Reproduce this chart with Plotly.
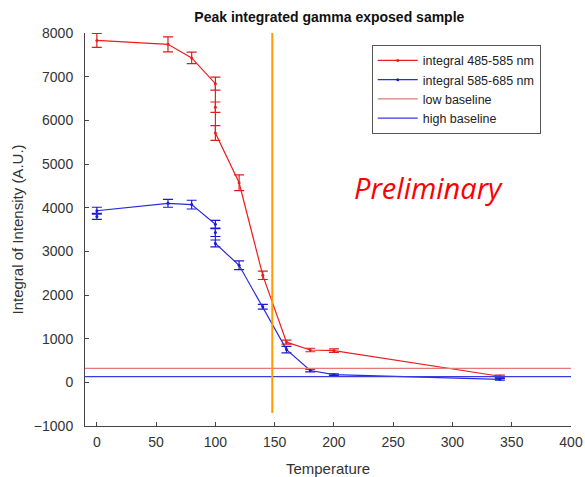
import plotly.graph_objects as go

# Data
temp_red = [0, 60, 80, 100, 100, 100, 120, 140, 160, 180, 200, 340]
val_red = [7830, 7740, 7430, 6840, 6300, 5710, 4570, 2450, 920, 740, 725, 140]
err_red = [160, 170, 130, 150, 120, 170, 180, 95, 45, 40, 40, 25]

temp_blue = [0, 0, 60, 80, 100, 100, 100, 120, 140, 160, 180, 200, 340]
val_blue = [3800, 3930, 4100, 4070, 3620, 3430, 3180, 2680, 1730, 750, 270, 175, 70]
err_blue = [70, 80, 90, 100, 90, 90, 80, 100, 55, 75, 30, 20, 20]

low_baseline = 320
high_baseline = 130
cutoff_temp = 148
cutoff_span = [-700, 8000]
x_range = [-10, 400]
y_range = [-1000, 8000]

font_family = "Liberation Sans, Arial, sans-serif"

fig = go.Figure()

fig.add_trace(go.Scatter(
    x=temp_red, y=val_red, mode="lines+markers", name="integral 485-585 nm",
    line=dict(color="#ee1c1c", width=1.2),
    marker=dict(color="#ee1c1c", size=3),
    error_y=dict(type="data", array=err_red, color="#dd1c1c", thickness=1.2, width=5),
))
fig.add_trace(go.Scatter(
    x=temp_blue, y=val_blue, mode="lines+markers", name="integral 585-685 nm",
    line=dict(color="#2a2ae0", width=1.2),
    marker=dict(color="#1a1ad0", size=3),
    error_y=dict(type="data", array=err_blue, color="#1a1ad0", thickness=1.2, width=5),
))
fig.add_trace(go.Scatter(
    x=x_range, y=[low_baseline, low_baseline], mode="lines", name="low baseline",
    line=dict(color="#e87878", width=1.2),
))
fig.add_trace(go.Scatter(
    x=x_range, y=[high_baseline, high_baseline], mode="lines", name="high baseline",
    line=dict(color="#3a3ae0", width=1.2),
))
fig.add_trace(go.Scatter(
    x=[cutoff_temp, cutoff_temp], y=cutoff_span, mode="lines", showlegend=False,
    line=dict(color="#ff9a00", width=2),
))

axis_common = dict(
    showgrid=False, zeroline=False, showline=True, linecolor="#444444", linewidth=1,
    ticks="inside", ticklen=4, tickcolor="#444444",
    tickfont=dict(size=14, color="#333333", family=font_family),
    mirror=False, automargin=False,
)

fig.update_layout(
    width=585, height=477,
    margin=dict(l=85, r=14, t=33, b=51),
    paper_bgcolor="white", plot_bgcolor="white",
    title=dict(text="<b>Peak integrated gamma exposed sample</b>", x=0.563, xanchor="center",
               y=0.975, yanchor="top",
               font=dict(size=14, color="#111111", family=font_family)),
    xaxis=dict(range=x_range, tickvals=[0, 50, 100, 150, 200, 250, 300, 350, 400],
               ticklabelstandoff=3,
               title=dict(text="Temperature", font=dict(size=15, color="#333333", family=font_family),
                          standoff=14),
               **axis_common),
    yaxis=dict(range=y_range, tickvals=list(range(-1000, 8001, 1000)),
               ticklabelstandoff=8,
               title=dict(text="Integral of Intensity (A.U.)",
                          font=dict(size=15, color="#333333", family=font_family), standoff=6),
               **axis_common),
    legend=dict(x=0.59, y=0.97, xanchor="left", yanchor="top",
                bgcolor="white", bordercolor="#555555", borderwidth=1,
                font=dict(size=12.5, color="#222222", family=font_family),
                tracegroupgap=0, itemwidth=40),
    showlegend=True,
    annotations=[dict(
        x=0.706, y=0.606, xref="paper", yref="paper", text="<i>Preliminary</i>",
        xanchor="center", yanchor="middle",
        showarrow=False, font=dict(size=29, color="#ff0000", family="Open Sans, sans-serif"),
    )],
)

fig.write_html("out.html")
